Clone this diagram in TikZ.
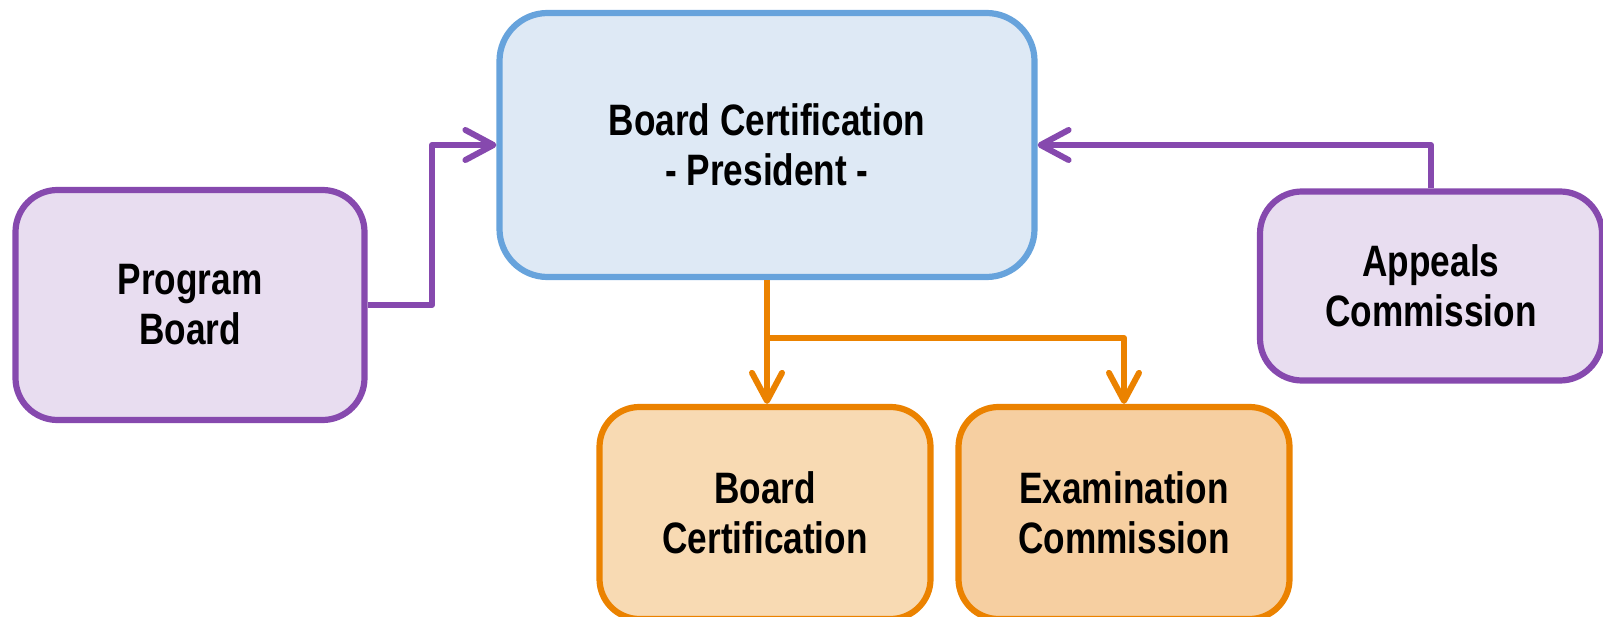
\documentclass[tikz,border=0pt]{standalone}
\usepackage{fontspec}
\newfontfamily\lbl{Liberation Sans}[FakeStretch=0.8]
\usetikzlibrary{arrows.meta,positioning}
\definecolor{purp}{HTML}{8649AE}
\definecolor{purpfill}{HTML}{E8DDF0}
\definecolor{blueb}{HTML}{67A3DC}
\definecolor{bluefill}{HTML}{DEE9F5}
\definecolor{orng}{HTML}{EB8200}
\definecolor{orfillA}{HTML}{F8DAB3}
\definecolor{orfillB}{HTML}{F6CFA1}
\tikzset{
  box/.style={draw, line width=6.2pt, align=center, inner sep=0pt,
    font=\lbl\bfseries\fontsize{44}{50}\selectfont},
  pbox/.style={box, draw=purp, fill=purpfill, rounded corners=42pt},
  bbox/.style={box, draw=blueb, fill=bluefill, rounded corners=48pt},
  obox/.style={box, draw=orng, rounded corners=40pt},
  conn/.style={line width=6pt, line join=round,
    -{Straight Barb[length=28pt,width=30pt,line cap=round,line join=round]}},
  pconn/.style={conn, draw=purp},
  oconn/.style={conn, draw=orng},
}
\begin{document}
\begin{tikzpicture}[x=1pt,y=-1pt]
\useasboundingbox (0,0) rectangle (1603,617);
\node[bbox, minimum width=535pt, minimum height=264pt] (pres) at (767,145)
  {Board Certification\\- President -};
\node[pbox, minimum width=349pt, minimum height=230pt] (pb) at (190,305)
  {Program\\Board};
\node[pbox, minimum width=342pt, minimum height=189pt] (app) at (1431,286)
  {Appeals\\Commission};
\node[obox, fill=orfillA, minimum width=331pt, minimum height=212pt] (bc) at (765,513)
  {Board\\Certification};
\node[obox, fill=orfillB, minimum width=331pt, minimum height=212pt] (ex) at (1124,513)
  {Examination\\Commission};
\coordinate (pbturn) at (432,305);
\coordinate (split) at (767,338);
\draw[pconn] (pb.east) -- (pbturn) |- (pres.west);
\draw[pconn] (app.north) |- (pres.east);
\draw[oconn] (pres.south) -- (pres.south |- bc.north);
\draw[oconn] (split) -| (ex.north);
\end{tikzpicture}
\end{document}
